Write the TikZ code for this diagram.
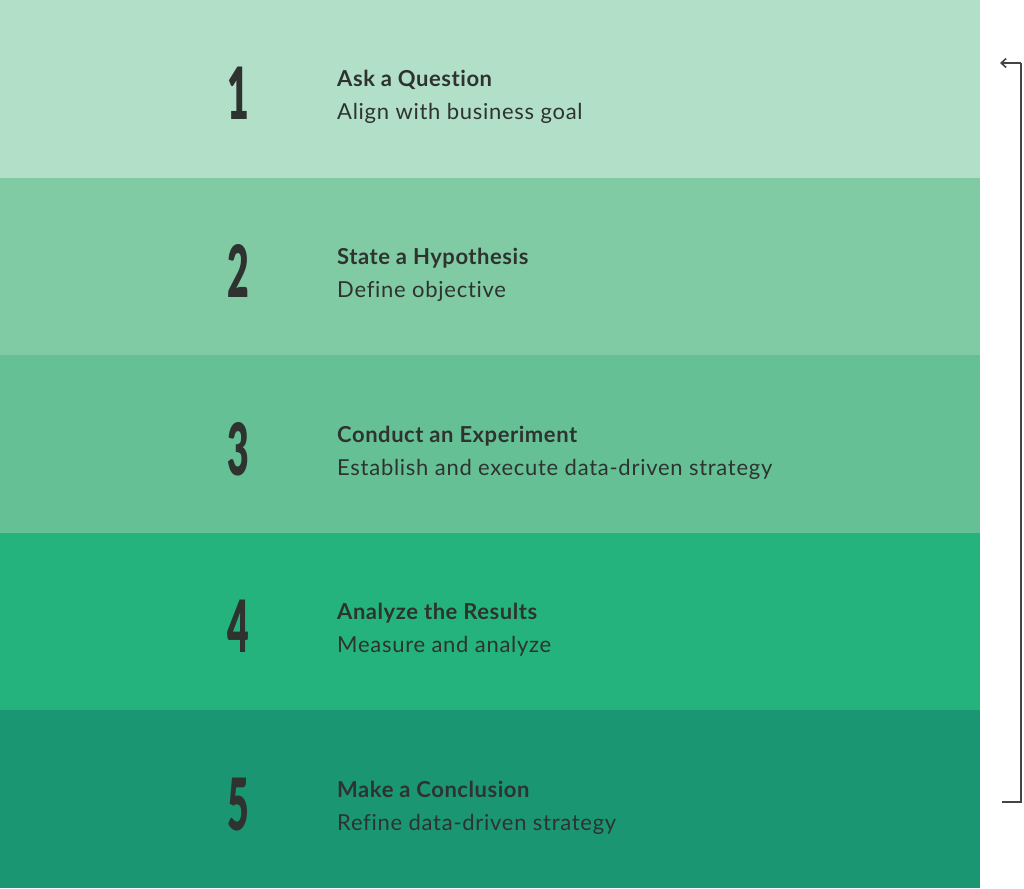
\documentclass[tikz,border=0pt]{standalone}
\usepackage{fontspec}
\setmainfont{Lato}[Ligatures=NoCommon]
\newfontfamily\titlefont{Lato}[Ligatures=NoCommon,LetterSpace=2.5]
\newfontfamily\subfont{Lato}[Ligatures=NoCommon,LetterSpace=3.3]
\newfontfamily\numfont{Lato Black}
\usetikzlibrary{arrows.meta}
\definecolor{bandA}{HTML}{B2DFC8}
\definecolor{bandB}{HTML}{80CBA4}
\definecolor{bandC}{HTML}{65C195}
\definecolor{bandD}{HTML}{24B37D}
\definecolor{bandE}{HTML}{1A9672}
\definecolor{ink}{HTML}{2E3330}
\definecolor{linegray}{HTML}{444444}
\tikzset{
  numlabel/.style={anchor=base, inner sep=0pt, text=ink, font=\numfont\fontsize{72}{72}\selectfont},
  titlelabel/.style={anchor=base west, inner sep=0pt, text=ink, font=\titlefont\fontsize{22}{26}\selectfont\bfseries},
  sublabel/.style={anchor=base west, inner sep=0pt, text=ink, font=\subfont\fontsize{22}{26}\selectfont},
  loopline/.style={draw=linegray, line width=1.6pt},
}
\begin{document}
\begin{tikzpicture}[x=1pt,y=-1pt]
\useasboundingbox (0,0) rectangle (1024,888);
\fill[white] (0,0) rectangle (1024,888);
\foreach \c [count=\i from 0] in {bandA,bandB,bandC,bandD,bandE}{
  \fill[\c] (0,{177.6*\i}) rectangle (980,{177.6*(\i+1)});
}
\foreach \n/\t/\s [count=\i from 0] in {
  1/Ask a Question/Align with business goal,
  2/State a Hypothesis/Define objective,
  3/Conduct an Experiment/Establish and execute data-driven strategy,
  4/Analyze the Results/Measure and analyze,
  5/Make a Conclusion/Refine data-driven strategy}{
  \node[numlabel] (num\n) at (238,{177.6*\i+120}) {\scalebox{0.52}[1]{\n}};
  \node[titlelabel] (title\n) at (337,{177.6*\i+87}) {\t};
  \node[sublabel] (sub\n) at (337,{177.6*\i+120}) {\s};
}
\coordinate (top) at (1021,63);
\coordinate (tip) at (1000,63);
\coordinate (bot) at (1021,802);
\coordinate (botend) at (1002,802);
\draw[loopline] (botend) -- (bot) -- (top);
\draw[loopline, -{Straight Barb[length=5pt,width=9pt]}] (top) -- (tip);
\end{tikzpicture}
\end{document}
